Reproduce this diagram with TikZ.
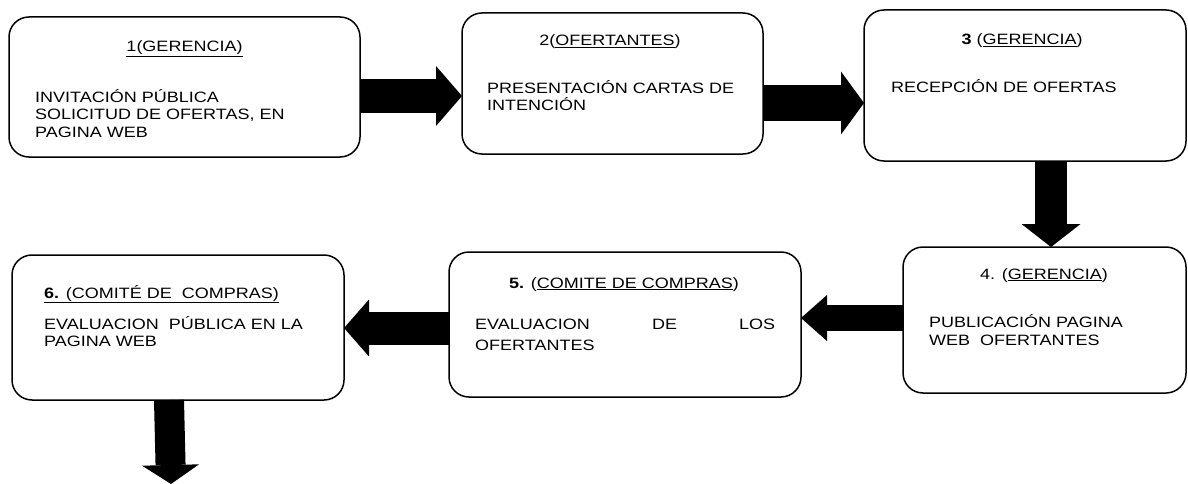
\documentclass[tikz,border=0pt]{standalone}
\usepackage{fontspec}
\setmainfont{Liberation Sans}[FakeStretch=1.2]
\usetikzlibrary{arrows.meta}
\begin{document}
\begin{tikzpicture}[x=1pt,y=-1pt,
  box/.style={draw, line width=1.5pt, rounded corners=20pt, inner sep=0pt, outer sep=0pt},
  txt/.style={anchor=base west, inner sep=0pt, font=\fontsize{15}{18}\selectfont},
  hdr/.style={anchor=base, inner sep=0pt, font=\fontsize{15}{18}\selectfont},
  blockarr/.style n args={3}{line width=#1pt, -{Triangle[length=#2pt,width=#3pt,line width=0pt]}}
]
\useasboundingbox (0,0) rectangle (1188,484);
% boxes
\node[box, minimum width=351pt, minimum height=140pt] (b1) at (184.5,87) {};
\node[box, minimum width=301pt, minimum height=141pt] (b2) at (612.5,83.5) {};
\node[box, minimum width=322pt, minimum height=151pt] (b3) at (1025,85.5) {};
\node[box, minimum width=283pt, minimum height=146pt] (b4) at (1044.5,320) {};
\node[box, minimum width=352pt, minimum height=145pt] (b5) at (625,324.5) {};
\node[box, minimum width=332pt, minimum height=145pt] (b6) at (178,327.5) {};
% texts box 1
\node[hdr] (h1) at (184.5,52) {\underline{1(GERENCIA)}};
\node[txt] (t1a) at (35,103) {INVITACIÓN PÚBLICA};
\node[txt] (t1b) at (35,120) {SOLICITUD DE OFERTAS, EN};
\node[txt] (t1c) at (35,137) {PAGINA WEB};
% box 2
\node[hdr] (h2) at (610,46) {2(\underline{OFERTANTES})};
\node[txt] (t2a) at (487,94) {PRESENTACIÓN CARTAS DE};
\node[txt] (t2b) at (487,111) {INTENCIÓN};
% box 3
\node[hdr] (h3) at (1022,45) {\textbf{3} (\underline{GERENCIA})};
\node[txt] (t3a) at (891,93) {RECEPCIÓN DE OFERTAS};
% box 4
\node[hdr] (h4) at (1044,279) {4. (\underline{GERENCIA})};
\node[txt] (t4a) at (929,327) {PUBLICACIÓN PAGINA};
\node[txt] (t4b) at (929,345) {WEB\ \ OFERTANTES};
% box 5
\node[hdr] (h5) at (624,288) {\textbf{5.} (\underline{COMITE DE COMPRAS})};
\node[txt] (t5a) at (475,329) {\makebox[300pt][s]{EVALUACION\hfill DE\hfill LOS}};
\node[txt] (t5b) at (475,350) {OFERTANTES};
% box 6
\node[txt] (h6) at (44,298) {\underline{\textbf{6.} (COMITÉ DE\ \ COMPRAS)}};
\node[txt] (t6a) at (44,329) {EVALUACION\ \ PÚBLICA EN LA};
\node[txt] (t6b) at (44,346) {PAGINA WEB};
% arrows
\coordinate (fin) at (171,484);
\draw[blockarr={34}{26}{60}] (b1.east |- 0,96) -- (b2.west |- 0,96);
\draw[blockarr={36}{23}{63}] (b2.east |- 0,103) -- (b3.west |- 0,103);
\draw[blockarr={32}{23}{59}] (b3.south -| 1051,0) -- (b4.north -| 1051,0);
\draw[blockarr={26}{26}{46}] (b4.west |- 0,318) -- (b5.east |- 0,318);
\draw[blockarr={33}{25}{57}] (b5.west |- 0,328) -- (b6.east |- 0,328);
\draw[blockarr={30}{19}{57}] (b6.south -| 169,0) -- (fin);
\end{tikzpicture}
\end{document}
